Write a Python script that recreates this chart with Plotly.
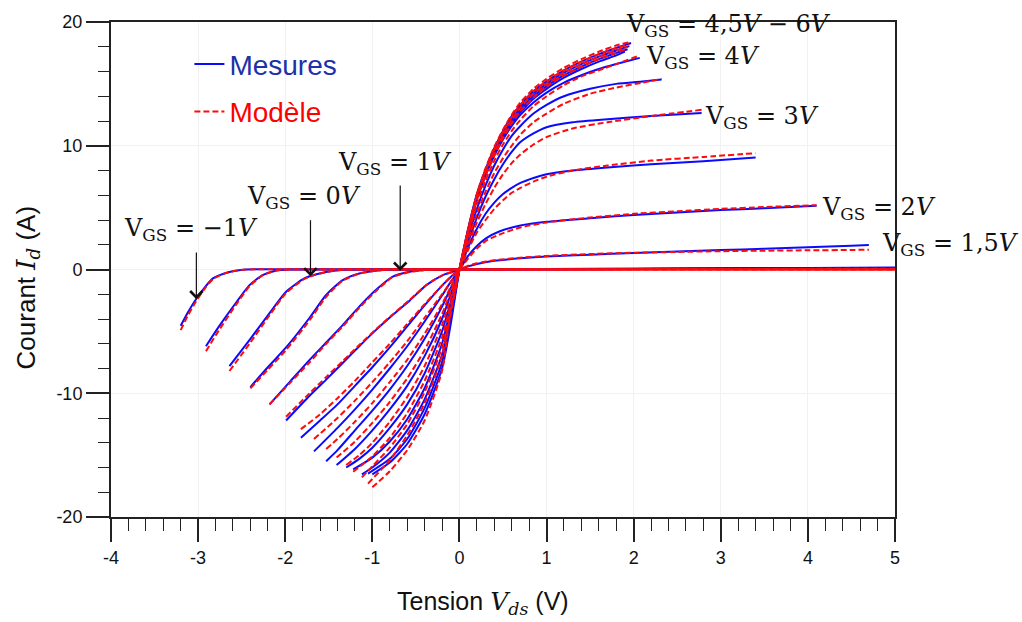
import plotly.graph_objects as go

# ---------------- data ----------------
vgs_labels = ["-1", "-0.5", "0", "0.5", "1", "1.5", "2", "2.5", "3", "3.5", "4", "4.5", "5", "5.5", "6"]

# VGS = -1 V
vds_m1 = [-3.2, -3.12, -3.03, -2.93, -2.83, -2.70, -2.57, -2.45, -1.5, 0, 1, 2, 3, 4, 5]
mes_m1 = [-4.55, -3.5, -2.46, -1.5, -0.72, -0.32, -0.1, 0, 0, 0, 0.02, 0.04, 0.06, 0.08, 0.1]
mod_m1 = [-4.9, -3.75, -2.65, -1.6, -0.78, -0.33, -0.1, 0, 0, 0, 0, 0, 0, 0, 0]
# VGS = -0.5 V
vds_m05 = [-2.91, -2.76, -2.57, -2.41, -2.26, -2.11, -1.95, -1, 0, 1, 2, 3, 4, 5]
mes_m05 = [-6.2, -4.6, -2.73, -1.26, -0.45, -0.1, 0, 0, 0, 0.02, 0.04, 0.06, 0.08, 0.1]
mod_m05 = [-6.6, -4.9, -2.9, -1.35, -0.48, -0.1, 0, 0, 0, 0, 0, 0, 0, 0]
# VGS = 0 V
vds_0 = [-2.64, -2.40, -2.18, -1.99, -1.80, -1.72, -1.53, -1.3, -0.5, 0, 1, 2, 3, 4, 5]
mes_0 = [-7.8, -5.6, -3.53, -1.8, -0.8, -0.55, -0.2, 0, 0, 0, 0.03, 0.05, 0.07, 0.09, 0.11]
mod_0 = [-8.2, -5.9, -3.7, -1.9, -0.85, -0.58, -0.2, 0, 0, 0, 0, 0, 0, 0, 0]
# VGS = 0.5 V
vds_05 = [-2.40, -2.2, -1.99, -1.72, -1.53, -1.34, -1.15, -0.96, -0.8, 0, 1, 2, 3, 4, 5]
mes_05 = [-9.5, -7.9, -6.3, -3.9, -2.06, -0.86, -0.32, -0.1, 0, 0, 0.03, 0.06, 0.09, 0.11, 0.13]
mod_05 = [-9.6, -8.1, -6.5, -4.1, -2.2, -0.9, -0.33, -0.1, 0, 0, 0, 0, 0.01, 0.01, 0.01]
# VGS = 1 V
vds_1 = [-2.18, -1.95, -1.72, -1.53, -1.34, -1.15, -0.96, -0.77, -0.57, -0.4, -0.25, 0, 1, 2, 3, 4, 5]
mes_1 = [-10.9, -9.1, -7.3, -5.9, -4.5, -3.0, -1.66, -0.59, -0.19, -0.05, 0, 0, 0.04, 0.07, 0.1, 0.13, 0.16]
mod_1 = [-10.9, -9.2, -7.5, -6.0, -4.6, -3.1, -1.75, -0.62, -0.2, -0.05, 0, 0, 0.02, 0.03, 0.04, 0.05, 0.06]
# VGS = 1.5 V
vds_15 = [-1.99, -1.72, -1.53, -1.34, -1.15, -0.96, -0.77, -0.57, -0.38, -0.19, -0.08, 0,
          0.1, 0.2, 0.4, 0.7, 1.0, 1.5, 2.0, 2.5, 3.0, 3.5, 4.0, 4.5, 4.7]
mes_15 = [-12.2, -10.2, -8.9, -7.55, -6.2, -4.9, -3.7, -2.5, -1.26, -0.45, -0.2, 0,
          0.25, 0.45, 0.7, 0.9, 1.05, 1.2, 1.33, 1.45, 1.57, 1.68, 1.8, 1.92, 1.98]
mod_15 = [-11.9, -10.0, -8.7, -7.4, -6.1, -4.85, -3.65, -2.45, -1.25, -0.45, -0.2, 0,
          0.3, 0.5, 0.75, 0.95, 1.1, 1.25, 1.35, 1.42, 1.48, 1.52, 1.55, 1.58, 1.6]
# VGS = 2 V
vds_2 = [-1.82, -1.6, -1.4, -1.2, -1.0, -0.8, -0.6, -0.4, -0.2, -0.1, 0,
         0.1, 0.2, 0.3, 0.45, 0.7, 1.0, 1.5, 2.0, 2.5, 3.0, 3.5, 4.1]
mes_2 = [-13.6, -12.2, -10.9, -9.4, -7.9, -6.3, -4.6, -2.9, -1.3, -0.6, 0,
         1.1, 1.9, 2.5, 3.05, 3.55, 3.85, 4.15, 4.4, 4.6, 4.8, 4.95, 5.15]
mod_2 = [-12.9, -11.7, -10.4, -9.0, -7.5, -6.0, -4.4, -2.8, -1.3, -0.6, 0,
         0.9, 1.7, 2.3, 2.8, 3.4, 3.8, 4.2, 4.5, 4.7, 4.9, 5.05, 5.2]
# VGS = 2.5 V
vds_25 = [-1.67, -1.4, -1.2, -1.0, -0.8, -0.6, -0.4, -0.2, -0.1, 0,
          0.1, 0.2, 0.3, 0.4, 0.5, 0.6, 0.7, 0.85, 1.0, 1.3, 1.7, 2.2, 2.8, 3.4]
mes_25 = [-14.7, -12.8, -11.3, -9.7, -8.0, -6.2, -4.2, -2.1, -1.0, 0,
          1.8, 3.3, 4.5, 5.4, 6.1, 6.6, 7.0, 7.4, 7.7, 8.0, 8.25, 8.5, 8.75, 9.05]
mod_25 = [-13.7, -12.0, -10.6, -9.1, -7.5, -5.8, -3.9, -2.0, -1.0, 0,
          1.6, 3.0, 4.0, 4.9, 5.6, 6.2, 6.6, 7.1, 7.5, 8.0, 8.4, 8.8, 9.1, 9.4]
# VGS = 3 V
vds_3 = [-1.53, -1.4, -1.2, -1.0, -0.8, -0.6, -0.4, -0.2, -0.1, 0,
         0.1, 0.2, 0.3, 0.4, 0.5, 0.6, 0.7, 0.85, 1.0, 1.3, 1.7, 2.2, 2.78]
mes_3 = [-15.5, -14.6, -13.0, -11.4, -9.7, -7.8, -5.6, -3.0, -1.5, 0,
         2.2, 4.2, 5.9, 7.3, 8.5, 9.5, 10.3, 11.0, 11.5, 11.9, 12.15, 12.4, 12.65]
mod_3 = [-14.5, -13.7, -12.3, -10.8, -9.1, -7.3, -5.2, -2.8, -1.4, 0,
         2.0, 3.8, 5.3, 6.6, 7.7, 8.6, 9.3, 10.1, 10.7, 11.4, 11.9, 12.4, 12.9]
# VGS = 3.5 V
vds_35 = [-1.41, -1.2, -1.0, -0.8, -0.6, -0.4, -0.2, -0.1, 0,
          0.1, 0.2, 0.3, 0.4, 0.5, 0.6, 0.7, 0.85, 1.0, 1.2, 1.5, 1.8, 2.1, 2.32]
mes_35 = [-15.8, -14.5, -13.0, -11.3, -9.4, -7.0, -4.0, -2.0, 0,
          2.6, 4.9, 6.8, 8.4, 9.7, 10.8, 11.6, 12.6, 13.3, 14.0, 14.6, 15.0, 15.2, 15.35]
mod_35 = [-15.2, -13.9, -12.4, -10.7, -8.8, -6.5, -3.6, -1.8, 0,
          2.4, 4.5, 6.3, 7.8, 9.0, 10.0, 10.9, 11.9, 12.6, 13.4, 14.2, 14.7, 15.1, 15.4]
# VGS = 4 V
vds_4 = [-1.30, -1.15, -1.0, -0.8, -0.6, -0.4, -0.2, -0.1, 0,
         0.1, 0.2, 0.3, 0.4, 0.5, 0.6, 0.7, 0.85, 1.0, 1.2, 1.4, 1.6, 1.8, 2.07]
mes_4 = [-16.0, -15.3, -14.4, -12.8, -10.9, -8.4, -5.0, -2.6, 0,
         3.0, 5.7, 7.6, 9.2, 10.5, 11.6, 12.5, 13.5, 14.3, 15.1, 15.7, 16.2, 16.6, 17.1]
mod_4 = [-15.8, -15.0, -14.0, -12.3, -10.3, -7.8, -4.5, -2.3, 0,
         2.8, 5.3, 7.2, 8.8, 10.1, 11.2, 12.1, 13.2, 14.0, 14.9, 15.6, 16.1, 16.6, 17.3]
# VGS = 4.5 V
vds_45 = [-1.22, -1.0, -0.8, -0.6, -0.4, -0.2, -0.1, 0,
          0.05, 0.1, 0.2, 0.3, 0.4, 0.5, 0.6, 0.7, 0.85, 1.0, 1.2, 1.4, 1.6, 1.8, 1.9]
mes_45 = [-16.15, -15.2, -13.9, -12.1, -9.6, -6.0, -3.1, 0,
          1.5, 3.0, 5.7, 7.7, 9.3, 10.7, 11.8, 12.7, 13.8, 14.6, 15.5, 16.2, 16.8, 17.3, 17.6]
mod_45 = [-16.35, -15.1, -13.6, -11.6, -9.0, -5.5, -2.8, 0,
          1.5, 3.0, 5.6, 7.6, 9.2, 10.6, 11.8, 12.8, 13.9, 14.8, 15.7, 16.4, 17.0, 17.5, 17.8]
# VGS = 5 V
vds_5 = [-1.12, -1.0, -0.8, -0.6, -0.4, -0.2, -0.1, 0,
         0.05, 0.1, 0.2, 0.3, 0.4, 0.5, 0.6, 0.7, 0.85, 1.0, 1.2, 1.4, 1.6, 1.8, 1.93]
mes_5 = [-16.55, -16.0, -14.8, -13.0, -10.5, -6.9, -3.6, 0,
         1.6, 3.1, 5.9, 7.9, 9.5, 10.9, 12.0, 12.9, 14.0, 14.8, 15.7, 16.4, 17.0, 17.5, 17.8]
mod_5 = [-16.8, -15.9, -14.4, -12.5, -9.9, -6.3, -3.2, 0,
         1.6, 3.1, 5.8, 7.8, 9.5, 10.9, 12.1, 13.1, 14.2, 15.0, 15.9, 16.6, 17.2, 17.7, 18.0]
# VGS = 5.5 V
vds_55 = [-1.05, -0.8, -0.6, -0.4, -0.2, -0.1, 0,
          0.05, 0.1, 0.2, 0.3, 0.4, 0.5, 0.6, 0.7, 0.85, 1.0, 1.2, 1.4, 1.6, 1.8, 1.95]
mes_55 = [-16.5, -15.3, -13.7, -11.2, -7.5, -4.0, 0,
          1.6, 3.2, 6.0, 8.0, 9.7, 11.1, 12.2, 13.1, 14.2, 15.0, 15.9, 16.6, 17.2, 17.7, 18.05]
mod_55 = [-17.3, -15.4, -13.4, -10.8, -7.0, -3.6, 0,
          1.6, 3.2, 6.0, 8.0, 9.7, 11.1, 12.3, 13.3, 14.4, 15.2, 16.1, 16.8, 17.4, 17.9, 18.2]
# VGS = 6 V
vds_6 = [-1.0, -0.8, -0.6, -0.4, -0.2, -0.1, 0,
         0.05, 0.1, 0.2, 0.3, 0.4, 0.5, 0.6, 0.7, 0.85, 1.0, 1.2, 1.4, 1.6, 1.8, 1.97]
mes_6 = [-16.55, -15.6, -14.1, -11.7, -8.0, -4.4, 0,
         1.7, 3.3, 6.1, 8.1, 9.8, 11.2, 12.4, 13.3, 14.4, 15.2, 16.1, 16.8, 17.4, 17.9, 18.3]
mod_6 = [-17.6, -16.3, -14.6, -12.2, -8.2, -3.3, 0,
         1.7, 3.3, 6.1, 8.2, 9.9, 11.3, 12.5, 13.5, 14.6, 15.4, 16.3, 17.0, 17.6, 18.1, 18.4]

x_tickvals = [-4, -3, -2, -1, 0, 1, 2, 3, 4, 5]
x_ticktext = ["-4", "-3", "-2", "-1", "0", "1", "2", "3", "4", "5"]
y_tickvals = [-20, -10, 0, 10, 20]
y_ticktext = ["-20", "-10", "0", "10", "20"]

vds_all = [vds_m1, vds_m05, vds_0, vds_05, vds_1, vds_15, vds_2, vds_25, vds_3, vds_35,
           vds_4, vds_45, vds_5, vds_55, vds_6]
mes_all = [mes_m1, mes_m05, mes_0, mes_05, mes_1, mes_15, mes_2, mes_25, mes_3, mes_35,
           mes_4, mes_45, mes_5, mes_55, mes_6]
mod_all = [mod_m1, mod_m05, mod_0, mod_05, mod_1, mod_15, mod_2, mod_25, mod_3, mod_35,
           mod_4, mod_45, mod_5, mod_55, mod_6]

BLUE = "#0a0aff"
RED = "#ff0a0a"
SERIF = "DejaVu Serif"
SANS = "Liberation Sans, Arial, sans-serif"

fig = go.Figure()
for i, (lab, xs, ys) in enumerate(zip(vgs_labels, vds_all, mes_all)):
    fig.add_trace(go.Scatter(
        x=xs, y=ys, mode="lines", line=dict(color=BLUE, width=2, shape="spline", smoothing=0.6),
        name='<span style="color:#2030a8">Mesures</span>', legendgroup="mes",
        showlegend=(i == 0), hovertemplate="VGS=" + lab + " V<br>%{x}, %{y}<extra></extra>"))
for i, (lab, xs, ys) in enumerate(zip(vgs_labels, vds_all, mod_all)):
    fig.add_trace(go.Scatter(
        x=xs, y=ys, mode="lines",
        line=dict(color=RED, width=2, dash="6px,3px", shape="spline", smoothing=0.6),
        name='<span style="color:#ff0000">Modèle</span>', legendgroup="mod",
        showlegend=(i == 0), hovertemplate="VGS=" + lab + " V<br>%{x}, %{y}<extra></extra>"))

ann_font = dict(family=SERIF, size=24, color="#111")
labels = [
    ("V<sub>GS</sub> = 4,5<i>V</i> − 6<i>V</i>", 1.89, 19.75),
    ("V<sub>GS</sub> = 4<i>V</i>", 2.12, 17.1),
    ("V<sub>GS</sub> = 3<i>V</i>", 2.8, 12.3),
    ("V<sub>GS</sub> = 2<i>V</i>", 4.14, 4.9),
    ("V<sub>GS</sub> = 1,5<i>V</i>", 4.83, 2.0),
    ("V<sub>GS</sub> = 1<i>V</i>", -1.42, 8.6),
    ("V<sub>GS</sub> = 0<i>V</i>", -2.46, 5.8),
    ("V<sub>GS</sub> = −1<i>V</i>", -3.87, 3.2),
]
annotations = []
for txt, xx, yy in labels:
    annotations.append(dict(text=txt, x=xx, y=yy, xref="x", yref="y", xanchor="left",
                            yanchor="middle", showarrow=False, font=ann_font))
for xx, y0, y1 in [(-3.02, 1.5, -2.4), (-1.71, 4.1, -0.55), (-0.68, 6.9, -0.1)]:
    annotations.append(dict(text="", x=xx, y=y1, ax=xx, ay=y0, xref="x", yref="y",
                            axref="x", ayref="y", showarrow=True, arrowhead=4,
                            arrowsize=2, arrowwidth=1.2, arrowcolor="#111"))
annotations.append(dict(text='Tension <span style="font-family:DejaVu Serif"><i>V<sub>ds</sub></i></span> (V)',
                        x=0.474, y=-0.173, xref="paper", yref="paper", xanchor="center",
                        yanchor="middle", showarrow=False, font=dict(family=SANS, size=25, color="#111")))
annotations.append(dict(text='Courant <span style="font-family:DejaVu Serif"><i>I<sub>d</sub></i></span> (A)',
                        x=-0.107, y=0.464, xref="paper", yref="paper", xanchor="center",
                        yanchor="middle", textangle=-90, showarrow=False,
                        font=dict(family=SANS, size=26, color="#111")))

fig.update_layout(
    width=1022, height=622,
    margin=dict(l=111, r=127, t=19, b=105),
    paper_bgcolor="white", plot_bgcolor="white",
    font=dict(family=SANS, color="#111"),
    showlegend=True,
    legend=dict(x=0.1, y=0.965, xanchor="left", yanchor="top", bgcolor="rgba(0,0,0,0)",
                font=dict(family=SANS, size=28), traceorder="grouped", tracegroupgap=8),
    annotations=annotations,
)
fig.update_xaxes(
    range=[-4, 5], tickvals=x_tickvals, ticktext=x_ticktext, ticks="outside", ticklen=23,
    tickwidth=1.5, tickcolor="#222", tickfont=dict(size=18, family=SANS),
    showline=True, linecolor="#222", linewidth=2, mirror=True,
    showgrid=True, gridcolor="#f1f1f1", gridwidth=1, zeroline=False,
    minor=dict(dtick=0.2, ticks="outside", ticklen=12, tickwidth=1.3, tickcolor="#222", showgrid=False),
)
fig.update_yaxes(
    range=[-20, 20], tickvals=y_tickvals, ticktext=y_ticktext, ticks="outside", ticklen=23,
    tickwidth=1.5, tickcolor="#222", tickfont=dict(size=18, family=SANS),
    showline=True, linecolor="#222", linewidth=2, mirror=True,
    showgrid=True, gridcolor="#f1f1f1", gridwidth=1, zeroline=False,
    minor=dict(dtick=2, ticks="outside", ticklen=11, tickwidth=1.3, tickcolor="#222", showgrid=False),
)

fig.write_html("out.html", config={"displayModeBar": False},
               post_script="document.body.style.margin='0';document.body.style.overflow='hidden';")
